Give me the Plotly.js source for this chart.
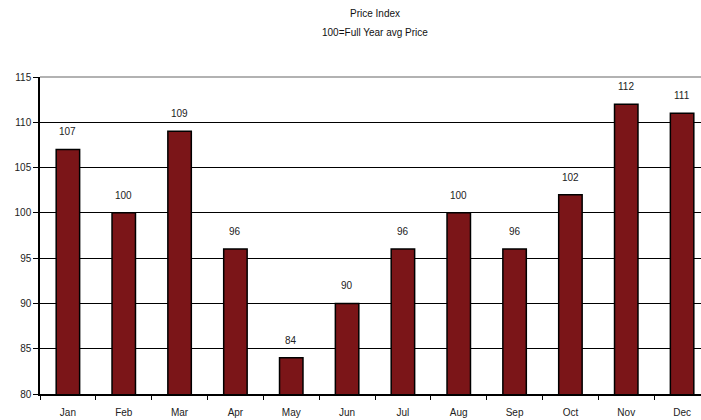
<!DOCTYPE html>
<html>
<head>
<meta charset="utf-8">
<script src="https://cdn.plot.ly/plotly-3.0.1.min.js"></script>
<style>
  html, body { margin: 0; padding: 0; overflow: hidden; background: #fff; }
  #chart { width: 712px; height: 420px; }
</style>
</head>
<body>
<div id="chart"></div>
<script>
// Monthly price index, 100 = full-year average price
const months = ["Jan", "Feb", "Mar", "Apr", "May", "Jun", "Jul", "Aug", "Sep", "Oct", "Nov", "Dec"];
const priceIndex = [107, 100, 109, 96, 84, 90, 96, 100, 96, 102, 112, 111];
const yTicks = [80, 85, 90, 95, 100, 105, 110, 115];
const titleLines = ["Price Index", "100=Full Year avg Price"];

const font = { family: "Liberation Sans, Arial, sans-serif", size: 10, color: "#222" };

const trace = {
  type: "bar",
  x: months,
  y: priceIndex,
  width: 0.42,
  marker: { color: "#7b1518", line: { color: "#000", width: 1.5 } },
  hoverinfo: "x+y"
};

// value labels above each bar
const labels = months.map((m, i) => ({
  x: m, y: priceIndex[i], text: String(priceIndex[i]),
  showarrow: false, yanchor: "bottom", yshift: 10,
  font: font
}));

// two-line heading above the plot
const heading = titleLines.map((t, i) => ({
  xref: "paper", yref: "paper", x: 0.5, y: 1,
  xanchor: "center", yanchor: "middle", yshift: i === 0 ? 64 : 45,
  text: t, showarrow: false,
  font: { family: "Liberation Sans, Arial, sans-serif", size: 10, color: "#111" }
}));

const layout = {
  width: 712, height: 420,
  margin: { l: 40, r: 2, t: 77, b: 26 },
  paper_bgcolor: "#fff", plot_bgcolor: "#fff",
  font: font,
  showlegend: false,
  xaxis: {
    type: "category",
    showgrid: false,
    showline: true, linecolor: "#000", linewidth: 1.5,
    ticks: "outside", tickcolor: "#000", ticklen: 4, tickson: "boundaries",
    ticklabelstandoff: 8,
    tickfont: font,
    zeroline: false
  },
  yaxis: {
    range: [80, 115],
    tickvals: yTicks,
    showgrid: true, gridcolor: "#000", gridwidth: 1,
    showline: true, linecolor: "#000", linewidth: 1.5,
    ticks: "outside", tickcolor: "#000", ticklen: 5,
    tickfont: { family: "Liberation Sans, Arial, sans-serif", size: 10, color: "#222" },
    zeroline: false
  },
  shapes: [{
    type: "line", xref: "paper", yref: "paper",
    x0: 0, x1: 1, y0: 1, y1: 1,
    line: { color: "#999", width: 1.5 }
  }],
  annotations: labels.concat(heading),
  bargap: 0.58
};

Plotly.newPlot("chart", [trace], layout, { displayModeBar: false, responsive: false });
</script>
</body>
</html>
